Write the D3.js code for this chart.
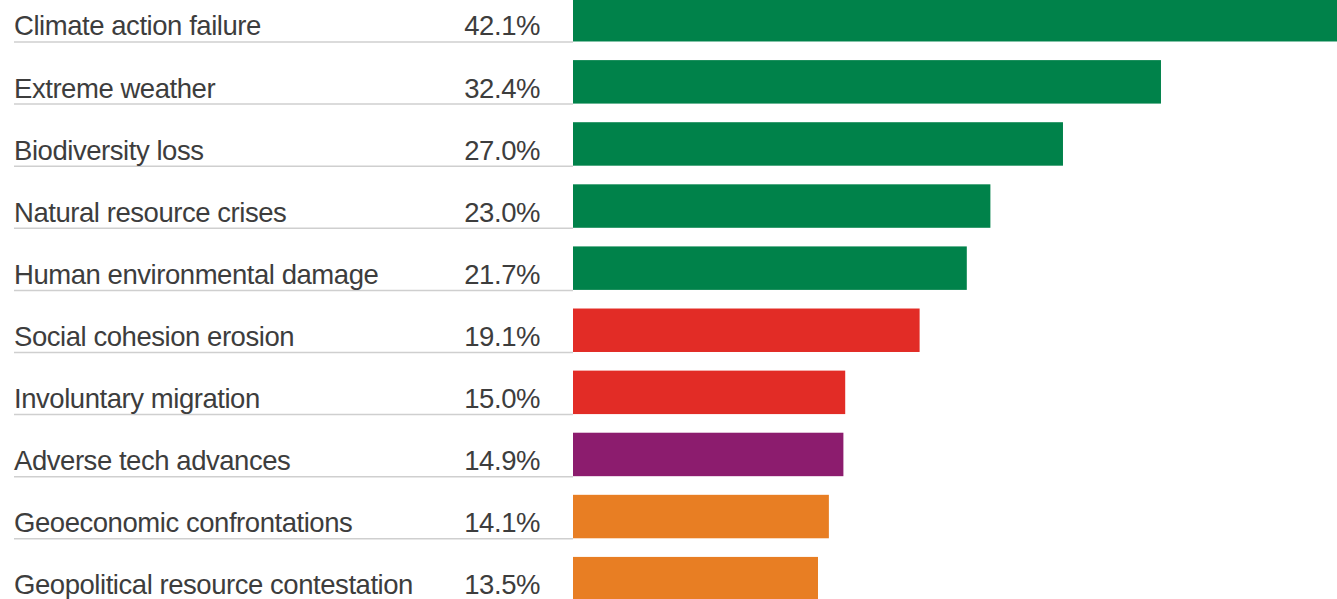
<!DOCTYPE html>
<html>
<head>
<meta charset="utf-8">
<script src="https://cdn.jsdelivr.net/npm/d3@7"></script>
<style>
  body { margin: 0; background: #fff; overflow: hidden; }
  svg { display: block; }
</style>
</head>
<body>
<div id="chart"></div>
<script>
// donnees
const risques = [
  'Climate action failure',
  'Extreme weather',
  'Biodiversity loss',
  'Natural resource crises',
  'Human environmental damage',
  'Social cohesion erosion',
  'Involuntary migration',
  'Adverse tech advances',
  'Geoeconomic confrontations',
  'Geopolitical resource contestation'
];
const valeurs = [42.1, 32.4, 27.0, 23.0, 21.7, 19.1, 15.0, 14.9, 14.1, 13.5];
const categories = ['env', 'env', 'env', 'env', 'env', 'soc', 'soc', 'tech', 'geo', 'geo'];

const couleurs = {env: '#00824a', soc: '#e22c26', tech: '#8c1c6e', geo: '#e87e23'};

const width = 1337, height = 599;
const barStart = 573;
const police = '27.5px "Liberation Sans", Arial, sans-serif';

const data = risques.map((r, i) => ({risque: r, valeur: valeurs[i], cat: categories[i]}));

const svg = d3.select('#chart').append('svg')
  .attr('width', width)
  .attr('height', height);

// echelles
const x = d3.scaleLinear()
  .domain([0, d3.max(valeurs)])
  .range([barStart, width]);

const y = d3.scaleBand()
  .domain(risques)
  .range([-11.3, 609.7])
  .paddingInner(0.3)
  .paddingOuter(0.15);

const rows = svg.selectAll('g.row')
  .data(data)
  .join('g')
  .attr('class', 'row');

// ligne grise sous chaque libelle
rows.append('line')
  .attr('x1', 14)
  .attr('x2', barStart)
  .attr('y1', d => y(d.risque) + y.bandwidth() + 0.5)
  .attr('y2', d => y(d.risque) + y.bandwidth() + 0.5)
  .attr('stroke', '#cfcfcf')
  .attr('stroke-width', 1.5);

// barres
rows.append('rect')
  .attr('x', x(0))
  .attr('y', d => y(d.risque))
  .attr('width', d => x(d.valeur) - x(0))
  .attr('height', y.bandwidth())
  .attr('fill', d => couleurs[d.cat]);

// libelles
rows.append('text')
  .attr('x', 14)
  .attr('y', d => y(d.risque) + y.bandwidth() - 6)
  .attr('fill', '#3d3d3d')
  .style('font', police)
  .style('letter-spacing', '-0.45px')
  .text(d => d.risque);

// valeurs
rows.append('text')
  .attr('x', 540)
  .attr('y', d => y(d.risque) + y.bandwidth() - 6)
  .attr('text-anchor', 'end')
  .attr('fill', '#3d3d3d')
  .style('font', police)
  .style('letter-spacing', '-0.45px')
  .text(d => d3.format('.1f')(d.valeur) + '%');
</script>
</body>
</html>
